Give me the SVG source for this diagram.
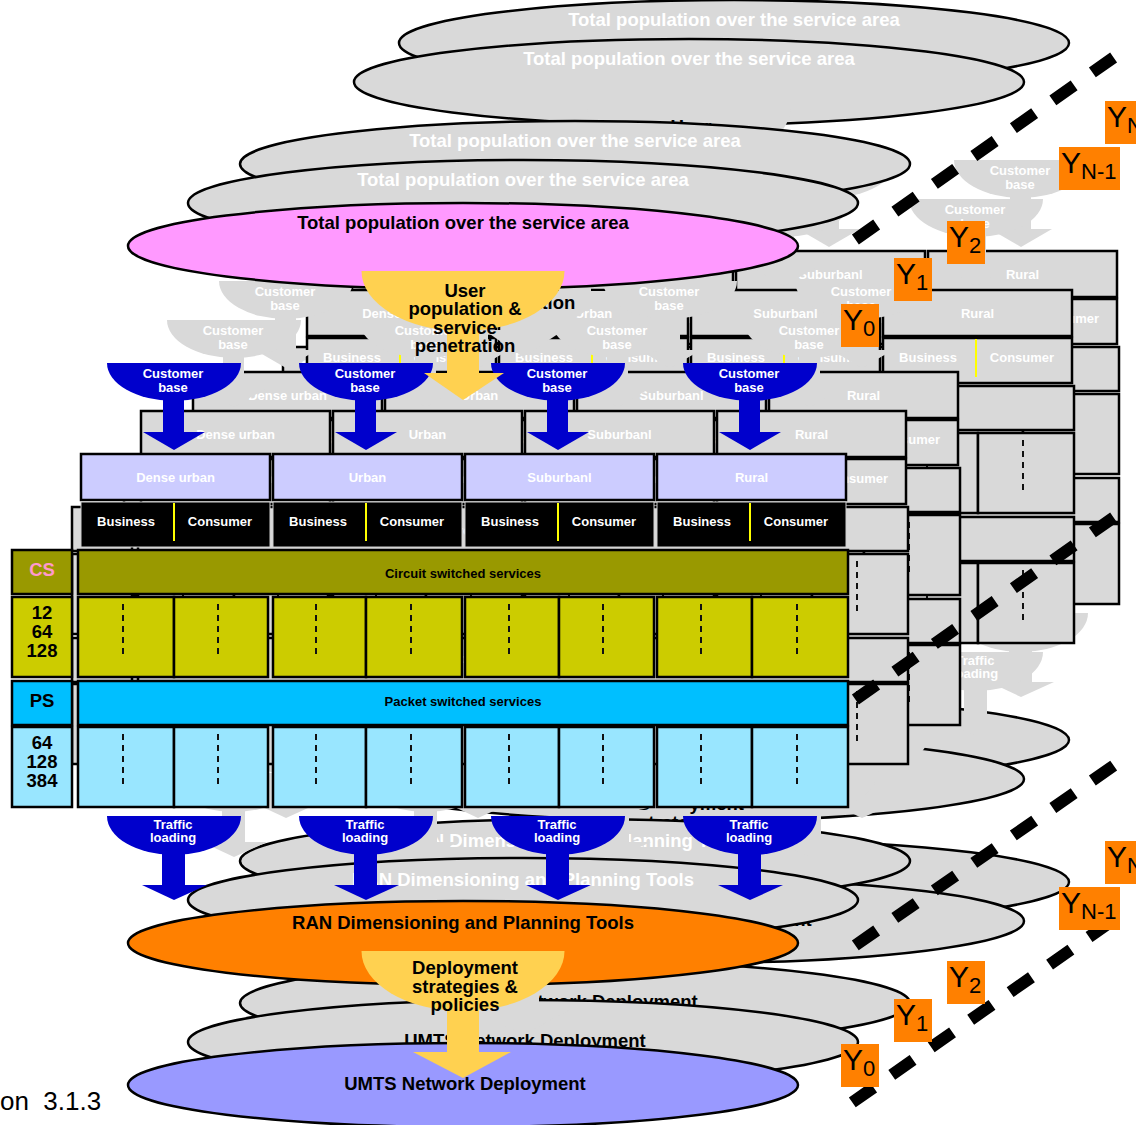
<svg xmlns="http://www.w3.org/2000/svg" width="1136" height="1125" viewBox="0 0 1136 1125">
<style>
  .o{stroke:#000;stroke-width:2.5}
  .t{font-family:"Liberation Sans",Arial,Helvetica,sans-serif;font-weight:bold;text-anchor:middle}
  .s13{font-size:13px}
  .s18{font-size:18.5px}
  .w{fill:#fff}
  .k{fill:#000}
  .grey{fill:#d9d9d9}
  .dv{stroke:#ffff00;stroke-width:2}
  .dl{stroke:#111;stroke-width:2;stroke-dasharray:6 5;fill:none}
  .yl{fill:#ff8000}
  .yt{font-family:"Liberation Sans",Arial,Helvetica,sans-serif;font-size:30px;fill:#000}
  .ys{font-size:22px}
  .diag{stroke:#000;stroke-width:12;fill:none}
</style>
<defs>
  <!-- bowl-with-arrow shapes, drawn relative to the bowl's top centre; fill comes from the <use> -->
  <g id="cust-arrow">
    <path d="M-67,0H67A67,38 0 0 1 -67,0Z"/>
    <rect x="-11" y="27" width="21" height="44"/>
    <path d="M-31,69H31L0,87Z"/>
  </g>
  <g id="traffic-arrow">
    <path d="M-67,0H67A67,39 0 0 1 -67,0Z"/>
    <rect x="-12" y="29" width="23" height="41"/>
    <path d="M-32,69H33L0,84Z"/>
  </g>
  <g id="user-arrow">
    <path d="M-101.5,0H101.5A101.5,60 0 0 1 -101.5,0Z"/>
    <rect x="-16" y="45" width="32" height="59"/>
    <path d="M-39,102H41L0,129Z"/>
  </g>
  <g id="deploy-arrow">
    <path d="M-101.5,0H101.5A101.5,60 0 0 1 -101.5,0Z"/>
    <rect x="-16" y="45" width="32" height="58"/>
    <path d="M-50,101H48L0,127Z"/>
  </g>
  <!-- one row of eight business/consumer cells -->
  <g id="cell-row">
    <rect class="o" x="78" y="0" width="96" height="80"/>
    <rect class="o" x="174" y="0" width="94" height="80"/>
    <rect class="o" x="273" y="0" width="93" height="80"/>
    <rect class="o" x="366" y="0" width="96" height="80"/>
    <rect class="o" x="465" y="0" width="94" height="80"/>
    <rect class="o" x="559" y="0" width="95" height="80"/>
    <rect class="o" x="657" y="0" width="95" height="80"/>
    <rect class="o" x="752" y="0" width="96" height="80"/>
    <path class="dl" d="M123,7V60M218,7V60M316,7V60M411,7V60M509,7V60M603,7V60M701,7V60M797,7V60"/>
  </g>

  <!-- greyed-out copy of the whole chain, reused for the later years -->
  <g id="tier">
    <ellipse class="o grey" cx="463" cy="246" rx="335" ry="43"/>
    <text class="t s18 w" x="463" y="228.5">Total population over the service area</text>

    <use href="#cust-arrow" x="174" y="363" fill="#d9d9d9"/>
    <use href="#cust-arrow" x="366" y="363" fill="#d9d9d9"/>
    <use href="#cust-arrow" x="558" y="363" fill="#d9d9d9"/>
    <use href="#cust-arrow" x="750" y="363" fill="#d9d9d9"/>
    <g class="t s13 w">
      <text x="173" y="377.5">Customer</text><text x="173" y="392">base</text>
      <text x="365" y="377.5">Customer</text><text x="365" y="392">base</text>
      <text x="557" y="377.5">Customer</text><text x="557" y="392">base</text>
      <text x="749" y="377.5">Customer</text><text x="749" y="392">base</text>
    </g>

    <use href="#user-arrow" x="463" y="271" fill="#d9d9d9"/>
    <g class="t s18 k">
      <text x="465" y="296.5">User</text>
      <text x="465" y="315">population &amp;</text>
      <text x="465" y="333.5">service</text>
      <text x="465" y="352">penetration</text>
    </g>

    <rect class="o grey" x="81" y="454" width="189" height="46"/>
    <rect class="o grey" x="273" y="454" width="189" height="46"/>
    <rect class="o grey" x="465" y="454" width="189" height="46"/>
    <rect class="o grey" x="657" y="454" width="189" height="46"/>
    <g class="t s13 w">
      <text x="175.5" y="481.5">Dense urban</text>
      <text x="367.5" y="481.5">Urban</text>
      <text x="559.5" y="481.5">Suburbanl</text>
      <text x="751.5" y="481.5">Rural</text>
    </g>
    <rect class="o grey" x="81" y="502" width="189" height="45"/>
    <rect class="o grey" x="273" y="502" width="189" height="45"/>
    <rect class="o grey" x="465" y="502" width="189" height="45"/>
    <rect class="o grey" x="657" y="502" width="189" height="45"/>
    <path class="dv" d="M174,503V541M366,503V541M558,503V541M750,503V541"/>
    <g class="t s13 w">
      <text x="126" y="525.5">Business</text><text x="220" y="525.5">Consumer</text>
      <text x="318" y="525.5">Business</text><text x="412" y="525.5">Consumer</text>
      <text x="510" y="525.5">Business</text><text x="604" y="525.5">Consumer</text>
      <text x="702" y="525.5">Business</text><text x="796" y="525.5">Consumer</text>
    </g>

    <rect class="o grey" x="12" y="550" width="60" height="44"/>
    <rect class="o grey" x="78" y="550" width="770" height="44"/>
    <rect class="o grey" x="12" y="597" width="60" height="80"/>
    <use href="#cell-row" y="597" fill="#d9d9d9"/>
    <rect class="o grey" x="12" y="681" width="60" height="44"/>
    <rect class="o grey" x="78" y="681" width="770" height="44"/>
    <rect class="o grey" x="12" y="727" width="60" height="80"/>
    <use href="#cell-row" y="727" fill="#d9d9d9"/>
    <g class="t s13 w">
      <text x="463" y="577.5">Circuit switched services</text>
      <text x="463" y="705.5">Packet switched services</text>
    </g>
    <g class="t s18 w">
      <text x="42" y="575.5">CS</text>
      <text x="42" y="618.5">12</text><text x="42" y="637.5">64</text><text x="42" y="656.5">128</text>
      <text x="42" y="706.5">PS</text>
      <text x="42" y="748.5">64</text><text x="42" y="767.5">128</text><text x="42" y="786.5">384</text>
    </g>

    <ellipse class="o grey" cx="463" cy="943" rx="335" ry="42"/>
    <text class="t s18 w" x="463" y="928.5">RAN Dimensioning and Planning Tools</text>
    <use href="#traffic-arrow" x="174" y="816" fill="#d9d9d9"/>
    <use href="#traffic-arrow" x="366" y="816" fill="#d9d9d9"/>
    <use href="#traffic-arrow" x="558" y="816" fill="#d9d9d9"/>
    <use href="#traffic-arrow" x="750" y="816" fill="#d9d9d9"/>
    <g class="t s13 w">
      <text x="173" y="828.5">Traffic</text><text x="173" y="841.5">loading</text>
      <text x="365" y="828.5">Traffic</text><text x="365" y="841.5">loading</text>
      <text x="557" y="828.5">Traffic</text><text x="557" y="841.5">loading</text>
      <text x="749" y="828.5">Traffic</text><text x="749" y="841.5">loading</text>
    </g>

    <ellipse class="o grey" cx="463" cy="1085" rx="335" ry="42"/>
    <use href="#deploy-arrow" x="463" y="951" fill="#d9d9d9"/>
    <g class="t s18 k">
      <text x="465" y="973.5">Deployment</text>
      <text x="465" y="992.5">strategies &amp;</text>
      <text x="465" y="1010.5">policies</text>
      <text x="465" y="1089.5">UMTS Network Deployment</text>
    </g>
  </g>
</defs>

<rect width="1136" height="1125" fill="#fff"/>

<!-- later years, furthest first -->
<g id="year-n">
  <use href="#tier" transform="translate(271,-203)"/>
</g>
<g id="year-n-1">
  <use href="#tier" transform="translate(226,-164)"/>
</g>
<g id="year-2">
  <use href="#tier" transform="translate(112,-82)"/>
</g>
<g id="year-1">
  <use href="#tier" transform="translate(60,-43)"/>
</g>

<!-- current year, in colour -->
<g id="year-0">
  <g id="total-population">
    <ellipse class="o" cx="463" cy="246" rx="335" ry="43" fill="#ff99ff"/>
    <text class="t s18 k" x="463" y="228.5">Total population over the service area</text>
  </g>

  <g id="customer-base-dense-urban">
    <use href="#cust-arrow" x="174" y="363" fill="#0000cc"/>
    <text class="t s13 w" x="173" y="377.5">Customer</text><text class="t s13 w" x="173" y="392">base</text>
  </g>
  <g id="customer-base-urban">
    <use href="#cust-arrow" x="366" y="363" fill="#0000cc"/>
    <text class="t s13 w" x="365" y="377.5">Customer</text><text class="t s13 w" x="365" y="392">base</text>
  </g>
  <g id="customer-base-suburban">
    <use href="#cust-arrow" x="558" y="363" fill="#0000cc"/>
    <text class="t s13 w" x="557" y="377.5">Customer</text><text class="t s13 w" x="557" y="392">base</text>
  </g>
  <g id="customer-base-rural">
    <use href="#cust-arrow" x="750" y="363" fill="#0000cc"/>
    <text class="t s13 w" x="749" y="377.5">Customer</text><text class="t s13 w" x="749" y="392">base</text>
  </g>

  <g id="user-penetration">
    <use href="#user-arrow" x="463" y="271" fill="#ffd150"/>
    <g class="t s18 k">
      <text x="465" y="296.5">User</text>
      <text x="465" y="315">population &amp;</text>
      <text x="465" y="333.5">service</text>
      <text x="465" y="352">penetration</text>
    </g>
  </g>

  <g id="region-dense-urban">
    <rect class="o" x="81" y="454" width="189" height="46" fill="#ccccff"/>
    <text class="t s13 w" x="175.5" y="481.5">Dense urban</text>
    <rect x="81" y="502" width="189" height="45" fill="#000" stroke="#cfcfcf" stroke-width="1"/>
    <path class="dv" d="M174,503V541"/>
    <text class="t s13 w" x="126" y="525.5">Business</text>
    <text class="t s13 w" x="220" y="525.5">Consumer</text>
  </g>
  <g id="region-urban">
    <rect class="o" x="273" y="454" width="189" height="46" fill="#ccccff"/>
    <text class="t s13 w" x="367.5" y="481.5">Urban</text>
    <rect x="273" y="502" width="189" height="45" fill="#000" stroke="#cfcfcf" stroke-width="1"/>
    <path class="dv" d="M366,503V541"/>
    <text class="t s13 w" x="318" y="525.5">Business</text>
    <text class="t s13 w" x="412" y="525.5">Consumer</text>
  </g>
  <g id="region-suburban">
    <rect class="o" x="465" y="454" width="189" height="46" fill="#ccccff"/>
    <text class="t s13 w" x="559.5" y="481.5">Suburbanl</text>
    <rect x="465" y="502" width="189" height="45" fill="#000" stroke="#cfcfcf" stroke-width="1"/>
    <path class="dv" d="M558,503V541"/>
    <text class="t s13 w" x="510" y="525.5">Business</text>
    <text class="t s13 w" x="604" y="525.5">Consumer</text>
  </g>
  <g id="region-rural">
    <rect class="o" x="657" y="454" width="189" height="46" fill="#ccccff"/>
    <text class="t s13 w" x="751.5" y="481.5">Rural</text>
    <rect x="657" y="502" width="189" height="45" fill="#000" stroke="#cfcfcf" stroke-width="1"/>
    <path class="dv" d="M750,503V541"/>
    <text class="t s13 w" x="702" y="525.5">Business</text>
    <text class="t s13 w" x="796" y="525.5">Consumer</text>
  </g>

  <g id="cs-label">
    <rect class="o" x="12" y="550" width="60" height="44" fill="#999900"/>
    <text class="t s18" x="42" y="575.5" fill="#ff99cc">CS</text>
  </g>
  <g id="cs-services">
    <rect class="o" x="78" y="550" width="770" height="44" fill="#999900"/>
    <text class="t s13 k" x="463" y="577.5">Circuit switched services</text>
  </g>
  <g id="cs-rates">
    <rect class="o" x="12" y="597" width="60" height="80" fill="#cccc00"/>
    <text class="t s18 k" x="42" y="618.5">12</text>
    <text class="t s18 k" x="42" y="637.5">64</text>
    <text class="t s18 k" x="42" y="656.5">128</text>
  </g>
  <g id="cs-cells">
    <use href="#cell-row" y="597" fill="#cccc00"/>
  </g>

  <g id="ps-label">
    <rect class="o" x="12" y="681" width="60" height="44" fill="#00bfff"/>
    <text class="t s18 k" x="42" y="706.5">PS</text>
  </g>
  <g id="ps-services">
    <rect class="o" x="78" y="681" width="770" height="44" fill="#00bfff"/>
    <text class="t s13 k" x="463" y="705.5">Packet switched services</text>
  </g>
  <g id="ps-rates">
    <rect class="o" x="12" y="727" width="60" height="80" fill="#99e6ff"/>
    <text class="t s18 k" x="42" y="748.5">64</text>
    <text class="t s18 k" x="42" y="767.5">128</text>
    <text class="t s18 k" x="42" y="786.5">384</text>
  </g>
  <g id="ps-cells">
    <use href="#cell-row" y="727" fill="#99e6ff"/>
  </g>

  <g id="ran-tools">
    <ellipse class="o" cx="463" cy="943" rx="335" ry="42" fill="#ff8000"/>
    <text class="t s18 k" x="463" y="928.5">RAN Dimensioning and Planning Tools</text>
  </g>

  <g id="traffic-loading-dense-urban">
    <use href="#traffic-arrow" x="174" y="816" fill="#0000cc"/>
    <text class="t s13 w" x="173" y="828.5">Traffic</text><text class="t s13 w" x="173" y="841.5">loading</text>
  </g>
  <g id="traffic-loading-urban">
    <use href="#traffic-arrow" x="366" y="816" fill="#0000cc"/>
    <text class="t s13 w" x="365" y="828.5">Traffic</text><text class="t s13 w" x="365" y="841.5">loading</text>
  </g>
  <g id="traffic-loading-suburban">
    <use href="#traffic-arrow" x="558" y="816" fill="#0000cc"/>
    <text class="t s13 w" x="557" y="828.5">Traffic</text><text class="t s13 w" x="557" y="841.5">loading</text>
  </g>
  <g id="traffic-loading-rural">
    <use href="#traffic-arrow" x="750" y="816" fill="#0000cc"/>
    <text class="t s13 w" x="749" y="828.5">Traffic</text><text class="t s13 w" x="749" y="841.5">loading</text>
  </g>

  <g id="umts-deployment">
    <ellipse class="o" cx="463" cy="1085" rx="335" ry="42" fill="#9999ff"/>
  </g>
  <g id="deployment-policies">
    <use href="#deploy-arrow" x="463" y="951" fill="#ffd150"/>
    <g class="t s18 k">
      <text x="465" y="973.5">Deployment</text>
      <text x="465" y="992.5">strategies &amp;</text>
      <text x="465" y="1010.5">policies</text>
    </g>
  </g>
  <text class="t s18 k" x="465" y="1089.5">UMTS Network Deployment</text>
</g>

<!-- diagonal year guides -->
<g id="connectors">
  <path class="diag" stroke-dasharray="26 22.32" d="M855.4,239.5L1113.6,57.5"/>
  <path class="diag" stroke-dasharray="26 22.32" d="M855.4,699.5L1113.6,517.5"/>
  <path class="diag" stroke-dasharray="26 22.13" d="M855.3,945.4L1113.7,765.6"/>
  <path class="diag" stroke-dasharray="26 22.13" d="M852.3,1102.4L1109.7,922.6"/>
</g>

<!-- year tags -->
<g id="year-labels">
  <g id="tag-y0-top"><rect class="yl" x="841" y="304" width="38" height="43"/><text class="yt" x="843" y="330">Y<tspan class="ys" dy="6">0</tspan></text></g>
  <g id="tag-y1-top"><rect class="yl" x="894" y="258" width="38" height="43"/><text class="yt" x="896" y="284">Y<tspan class="ys" dy="6">1</tspan></text></g>
  <g id="tag-y2-top"><rect class="yl" x="947" y="221" width="38" height="43"/><text class="yt" x="949" y="247">Y<tspan class="ys" dy="6">2</tspan></text></g>
  <g id="tag-yn1-top"><rect class="yl" x="1059" y="147" width="61" height="43"/><text class="yt" x="1061" y="173">Y<tspan class="ys" dy="6">N-1</tspan></text></g>
  <g id="tag-yn-top"><rect class="yl" x="1105" y="101" width="40" height="43"/><text class="yt" x="1107" y="127">Y<tspan class="ys" dy="6">N</tspan></text></g>

  <g id="tag-y0-bottom"><rect class="yl" x="841" y="1044" width="38" height="43"/><text class="yt" x="843" y="1070">Y<tspan class="ys" dy="6">0</tspan></text></g>
  <g id="tag-y1-bottom"><rect class="yl" x="894" y="999" width="38" height="43"/><text class="yt" x="896" y="1025">Y<tspan class="ys" dy="6">1</tspan></text></g>
  <g id="tag-y2-bottom"><rect class="yl" x="947" y="961" width="38" height="43"/><text class="yt" x="949" y="987">Y<tspan class="ys" dy="6">2</tspan></text></g>
  <g id="tag-yn1-bottom"><rect class="yl" x="1059" y="887" width="61" height="43"/><text class="yt" x="1061" y="913">Y<tspan class="ys" dy="6">N-1</tspan></text></g>
  <g id="tag-yn-bottom"><rect class="yl" x="1105" y="841" width="40" height="43"/><text class="yt" x="1107" y="867">Y<tspan class="ys" dy="6">N</tspan></text></g>
</g>

<text x="0" y="1110" xml:space="preserve" font-family="Liberation Sans, Arial, sans-serif" font-size="26" fill="#000">on  3.1.3</text>
</svg>
